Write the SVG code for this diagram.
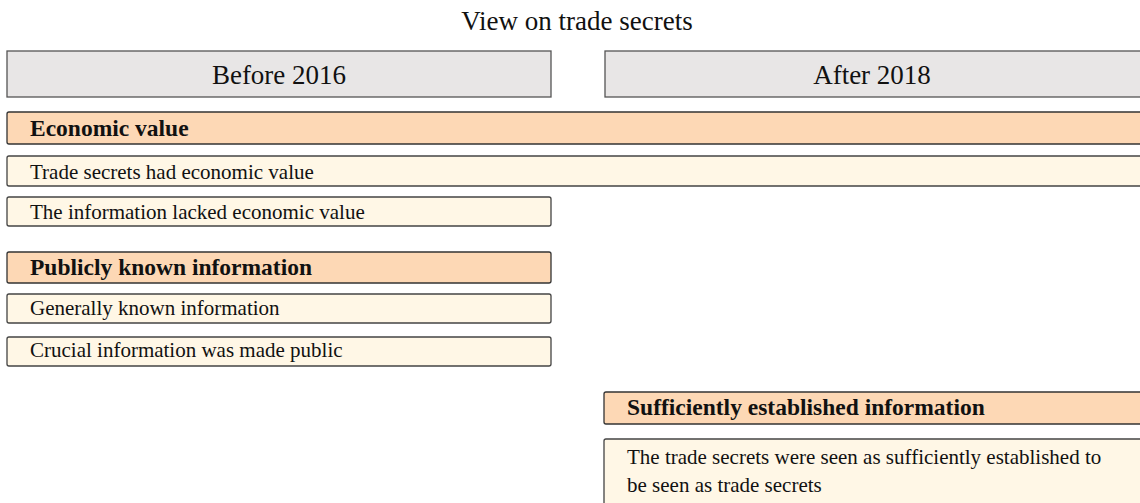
<svg xmlns="http://www.w3.org/2000/svg" width="1140" height="503" viewBox="0 0 1140 503">
<style>
text{font-family:"Liberation Serif","Times New Roman",serif;fill:#111}
.col{fill:#e8e6e6;stroke:#555;stroke-width:1.3}
.hdr{fill:#fdd8b5;stroke:#333;stroke-width:1.3}
.item{fill:#fff7e6;stroke:#444;stroke-width:1.3}
.ct{font-size:27px;text-anchor:middle}
.ht{font-size:23.5px;font-weight:bold}
.it{font-size:21px}
</style>
<rect width="1140" height="503" fill="#fff"/>
<text x="577" y="30" style="font-size:27px" text-anchor="middle">View on trade secrets</text>
<g id="before2016"><rect class="col" x="7" y="51" width="544" height="46"/><text class="ct" x="279" y="84">Before 2016</text></g>
<g id="after2018"><rect class="col" x="605" y="51" width="545" height="46"/><text class="ct" x="872" y="84">After 2018</text></g>
<g id="econ"><rect class="hdr" x="7" y="112" width="1143" height="32" rx="2"/><text class="ht" x="30" y="136">Economic value</text></g>
<g id="econ1"><rect class="item" x="7" y="156" width="1143" height="30" rx="2"/><text class="it" x="30" y="179">Trade secrets had economic value</text></g>
<g id="econ2"><rect class="item" x="7" y="197" width="544" height="29" rx="2"/><text class="it" x="30" y="219">The information lacked economic value</text></g>
<g id="public"><rect class="hdr" x="7" y="252" width="544" height="31" rx="2"/><text class="ht" x="30" y="275">Publicly known information</text></g>
<g id="public1"><rect class="item" x="7" y="294" width="544" height="29" rx="2"/><text class="it" x="30" y="315">Generally known information</text></g>
<g id="public2"><rect class="item" x="7" y="337" width="544" height="29" rx="2"/><text class="it" x="30" y="357">Crucial information was made public</text></g>
<g id="estab"><rect class="hdr" x="604" y="392" width="546" height="32" rx="2"/><text class="ht" x="627" y="415">Sufficiently established information</text></g>
<g id="estab1"><rect class="item" x="604" y="439" width="546" height="80" rx="2"/><text class="it" x="627" y="464">The trade secrets were seen as sufficiently established to</text><text class="it" x="627" y="492">be seen as trade secrets</text></g>
<g id="connectors"/>
</svg>
